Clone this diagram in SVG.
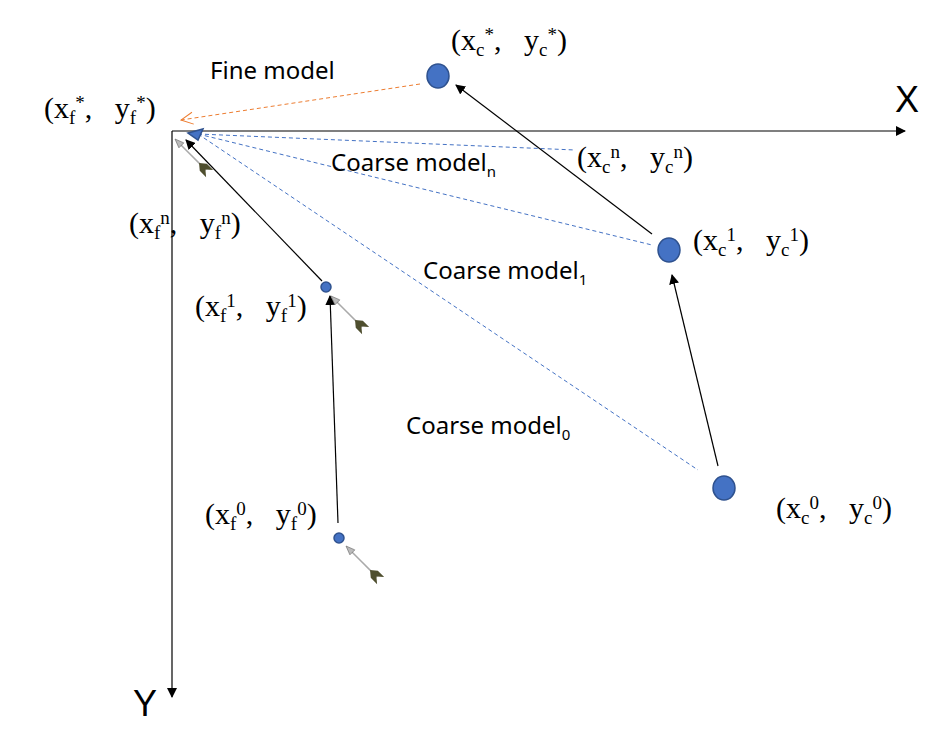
<svg xmlns="http://www.w3.org/2000/svg" width="948" height="738" viewBox="0 0 948 738">
<style>
.t{font-family:"Liberation Serif",serif;font-size:30px;fill:#000;white-space:pre}
.s{font-size:19px}
.l{font-family:"Noto Sans","Liberation Sans",sans-serif;font-size:24px;fill:#000}
.pt{fill:#4472c4;stroke:#2f528f;stroke-width:1.5}
.bd{stroke:#4472c4;stroke-width:1;stroke-dasharray:4 3;fill:none}
.ar{stroke:#000;stroke-width:1.2;fill:none;marker-end:url(#ah)}
</style>
<defs>
<marker id="ah" markerWidth="10" markerHeight="10" refX="9" refY="5" orient="auto" markerUnits="userSpaceOnUse"><path d="M0,0 L10,5 L0,10 Z" fill="#000"/></marker>
<marker id="oh" markerWidth="14" markerHeight="14" refX="13" refY="7" orient="auto" markerUnits="userSpaceOnUse"><path d="M1,1 L13,7 L1,13" fill="none" stroke="#ed7d31" stroke-width="1"/></marker>
<g id="dart">
<line x1="2" y1="0" x2="44" y2="0" stroke="#aaa" stroke-width="1.5"/>
<path d="M0,0 L9,-3.5 L9,3.5 Z" fill="#bbb" stroke="#666" stroke-width="0.6"/>
<path d="M34,0 L40,-5 L49,-5 L43,0 L49,5 L40,5 Z" fill="#4f4f2f"/>
</g>
</defs>
<g id="axes">
<line x1="172" y1="131" x2="905" y2="131" stroke="#000" stroke-width="1.2" marker-end="url(#ah)"/>
<line x1="172" y1="131" x2="172" y2="697" stroke="#000" stroke-width="1.2" marker-end="url(#ah)"/>
<text x="895" y="112" font-family="Liberation Sans,sans-serif" font-size="36">X</text>
<text x="133" y="716" font-family="Liberation Sans,sans-serif" font-size="36">Y</text>
</g>
<g id="connectors">
<line x1="420" y1="84" x2="181" y2="120" stroke="#ed7d31" stroke-width="1" stroke-dasharray="4 3" marker-end="url(#oh)"/>
<line class="bd" x1="198" y1="134" x2="575" y2="150"/>
<line class="bd" x1="198" y1="134" x2="652" y2="245"/>
<line class="bd" x1="198" y1="134" x2="698" y2="470"/>
<line class="ar" x1="338" y1="523" x2="330" y2="296"/>
<line class="ar" x1="322" y1="281" x2="186" y2="140"/>
<line class="ar" x1="718" y1="466" x2="672" y2="275"/>
<line class="ar" x1="652" y1="234" x2="456" y2="85"/>
<use href="#dart" transform="translate(175,139) rotate(45)"/>
<use href="#dart" transform="translate(331,296) rotate(45)"/>
<use href="#dart" transform="translate(346,546) rotate(45)"/>
</g>
<g id="nodes">
<g id="pfs"><path class="pt" d="M188,133 L203,129 L198,140 Z"/></g>
<g id="pf1"><circle class="pt" cx="326" cy="287" r="5"/></g>
<g id="pf0"><circle class="pt" cx="339" cy="538" r="5"/></g>
<g id="pcs"><ellipse class="pt" cx="438" cy="76" rx="11" ry="12"/></g>
<g id="pc1"><ellipse class="pt" cx="669" cy="250" rx="11" ry="12"/></g>
<g id="pc0"><ellipse class="pt" cx="724" cy="488" rx="11" ry="12"/></g>
</g>
<g id="labels">
<text class="t" x="44" y="118">(x<tspan class="s" dy="6">f</tspan><tspan class="s" dy="-15">*</tspan><tspan dy="9">,   y</tspan><tspan class="s" dy="6">f</tspan><tspan class="s" dy="-15">*</tspan><tspan dy="9">)</tspan></text>
<text class="t" x="451" y="50">(x<tspan class="s" dy="6">c</tspan><tspan class="s" dy="-15">*</tspan><tspan dy="9">,   y</tspan><tspan class="s" dy="6">c</tspan><tspan class="s" dy="-15">*</tspan><tspan dy="9">)</tspan></text>
<text class="t" x="577" y="167">(x<tspan class="s" dy="6">c</tspan><tspan class="s" dy="-15">n</tspan><tspan dy="9">,   y</tspan><tspan class="s" dy="6">c</tspan><tspan class="s" dy="-15">n</tspan><tspan dy="9">)</tspan></text>
<text class="t" x="693" y="250">(x<tspan class="s" dy="6">c</tspan><tspan class="s" dy="-15">1</tspan><tspan dy="9">,   y</tspan><tspan class="s" dy="6">c</tspan><tspan class="s" dy="-15">1</tspan><tspan dy="9">)</tspan></text>
<text class="t" x="776" y="518">(x<tspan class="s" dy="6">c</tspan><tspan class="s" dy="-15">0</tspan><tspan dy="9">,   y</tspan><tspan class="s" dy="6">c</tspan><tspan class="s" dy="-15">0</tspan><tspan dy="9">)</tspan></text>
<text class="t" x="129" y="233">(x<tspan class="s" dy="6">f</tspan><tspan class="s" dy="-15">n</tspan><tspan dy="9">,   y</tspan><tspan class="s" dy="6">f</tspan><tspan class="s" dy="-15">n</tspan><tspan dy="9">)</tspan></text>
<text class="t" x="195" y="316">(x<tspan class="s" dy="6">f</tspan><tspan class="s" dy="-15">1</tspan><tspan dy="9">,   y</tspan><tspan class="s" dy="6">f</tspan><tspan class="s" dy="-15">1</tspan><tspan dy="9">)</tspan></text>
<text class="t" x="205" y="524">(x<tspan class="s" dy="6">f</tspan><tspan class="s" dy="-15">0</tspan><tspan dy="9">,   y</tspan><tspan class="s" dy="6">f</tspan><tspan class="s" dy="-15">0</tspan><tspan dy="9">)</tspan></text>
<text class="l" x="210" y="79">Fine model</text>
<text class="l" x="331" y="171">Coarse model<tspan font-size="15" dy="6">n</tspan></text>
<text class="l" x="423" y="279">Coarse model<tspan font-size="15" dy="6">1</tspan></text>
<text class="l" x="406" y="434">Coarse model<tspan font-size="15" dy="6">0</tspan></text>
</g>
</svg>
